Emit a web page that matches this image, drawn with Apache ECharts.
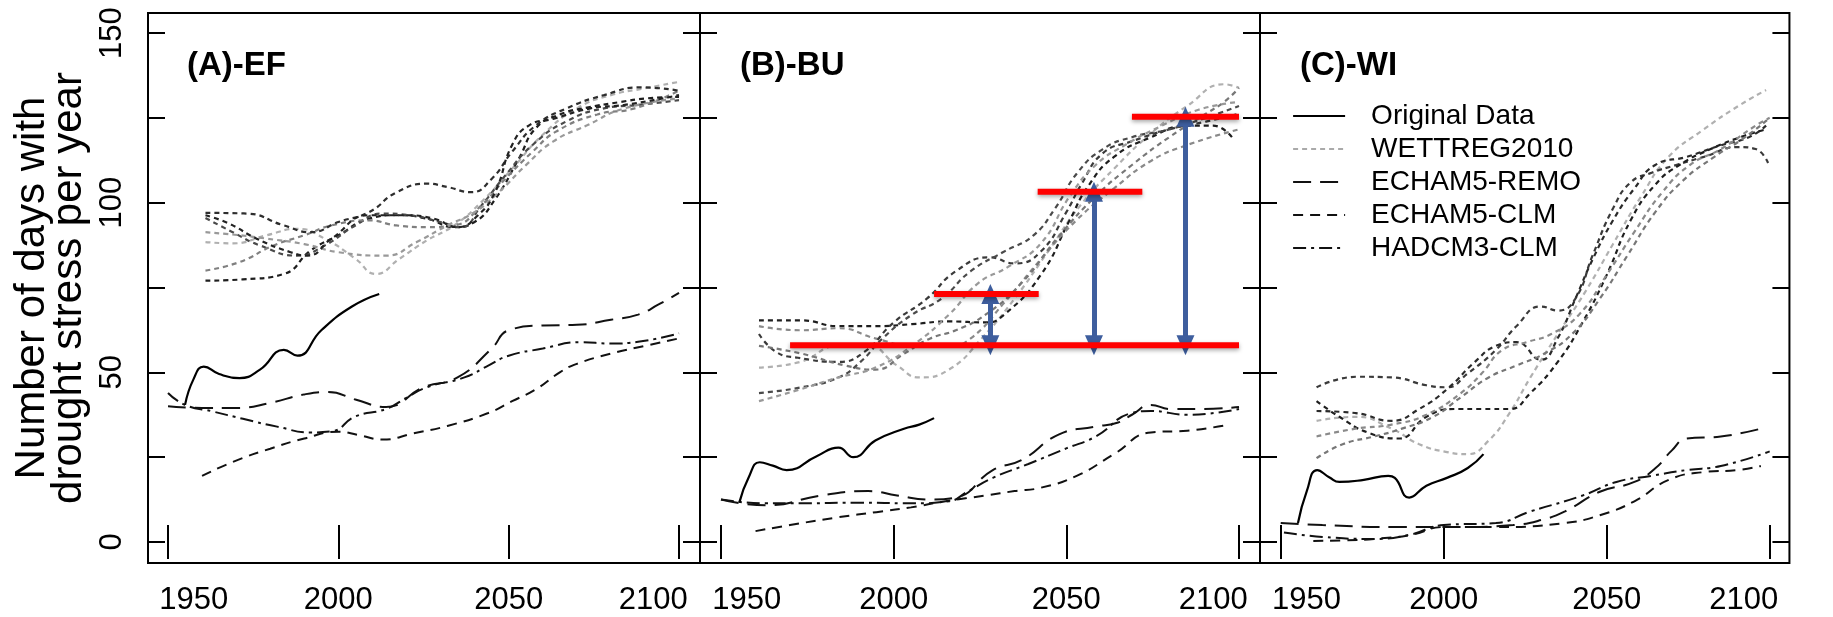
<!DOCTYPE html>
<html>
<head>
<meta charset="utf-8">
<title>Drought stress days</title>
<script src="https://cdn.jsdelivr.net/npm/echarts@6/dist/echarts.min.js"></script>
<style>
  html, body { margin: 0; padding: 0; background: #fff; }
  #chart { width: 1833px; height: 617px; }
</style>
</head>
<body>
<div id="chart"></div>
<script>
// axis ticks / labels
const xTickValues = [1950, 2000, 2050, 2100];
const yTickValues = [0, 25, 50, 75, 100, 125, 150];
const yLabelValues = [0, 50, 100, 150];
const panelTitles = ["(A)-EF", "(B)-BU", "(C)-WI"];
const legendNames = ["Original Data", "WETTREG2010", "ECHAM5-REMO", "ECHAM5-CLM", "HADCM3-CLM"];

// (A)-EF
const origA = [[1955, 40.4], [1957.5, 48], [1960.5, 51.7], [1965, 49.5], [1971, 48.3], [1977, 50.8], [1984, 56.6], [1988, 54.9], [1995, 62.4], [2004, 69.4], [2012, 73.1]];
const remoA = [[1950, 40], [1960, 39.5], [1970, 39.5], [1980, 41], [1990, 43.5], [1997, 44.2], [2005, 42], [2014, 39.8], [2025, 45.6], [2035, 48.5], [2045, 57], [2050, 62.4], [2060, 63.8], [2070, 64], [2080, 65.5], [2088, 67], [2094, 70], [2100, 73.4]];
const clmA = [[1960, 19.5], [1970, 24], [1980, 27.5], [1990, 30.5], [2000, 32.5], [2006, 31.5], [2013, 30.2], [2022, 32], [2032, 34.2], [2044, 38], [2051, 41.5], [2058, 45], [2065, 50], [2070, 52.5], [2080, 55.5], [2090, 57.8], [2100, 60]];
const hadA = [[1950, 43.9], [1955, 40.4], [1963, 38.5], [1972, 36.3], [1982, 34], [1992, 32.3], [1998, 32.6], [2005, 37], [2014, 39.2], [2020, 42.5], [2026, 45.6], [2037, 48.5], [2044, 52], [2050, 54.9], [2060, 57], [2071, 58.9], [2080, 58.5], [2088, 59], [2100, 61.5]];
const wettA1 = [[1961, 88.4], [1969, 88], [1979, 90.4], [1988, 92.3], [1996, 89.4], [2005, 83.5], [2011, 79], [2018, 83.5], [2026, 88.9], [2034, 93.3], [2042, 100.2], [2051, 110], [2060, 120], [2070, 127.8], [2080, 131.7], [2090, 133.7], [2100, 135.6]];
const wettA2 = [[1961, 77], [1972, 77.4], [1984, 79], [1992, 86], [2000, 90.4], [2009, 95.3], [2017, 96.3], [2026, 95.3], [2034, 92.8], [2040, 94.3], [2046, 101], [2053, 113], [2058, 122], [2065, 126], [2073, 128], [2083, 129.7], [2090, 130.7], [2100, 131.2]];
const wettA3 = [[1961, 95.5], [1969, 91.3], [1977, 87.4], [1988, 84.4], [1996, 87.4], [2005, 93.3], [2013, 96.8], [2021, 96.3], [2030, 94.3], [2036, 92.8], [2042, 99.2], [2049, 108], [2057, 117], [2067, 124], [2078, 127.8], [2088, 128.8], [2100, 130.2]];
const wettA4 = [[1961, 80], [1971, 82.5], [1981, 87.4], [1990, 90.4], [1998, 93.3], [2009, 94.8], [2017, 93.3], [2026, 92.8], [2034, 93.3], [2042, 99.2], [2049, 107], [2057, 115], [2064, 121], [2076, 126], [2087, 127.8], [2100, 133]];
const wettA5 = [[1961, 97], [1973, 96.8], [1984, 93.3], [1992, 91.3], [2000, 94.3], [2009, 97.2], [2017, 103], [2026, 105.6], [2032, 104.6], [2039, 103.1], [2045, 107], [2051, 115], [2058, 122.8], [2067, 127.8], [2078, 131.7], [2089, 134], [2100, 133]];
const wettA6 = [[1961, 91.3], [1971, 90.4], [1979, 89.4], [1990, 87.8], [2000, 85.4], [2014, 84.4], [2023, 88.4], [2032, 93.3], [2040, 97.2], [2047, 103], [2055, 111], [2063, 118], [2073, 122.8], [2084, 127.8], [2100, 130.7]];
const wettA7 = [[1961, 96.3], [1968, 93.8], [1976, 89.4], [1986, 85.4], [1991, 84.4], [1998, 89.4], [2009, 96.3], [2019, 96.3], [2028, 95.3], [2035, 92.8], [2041, 96.3], [2046, 103.1], [2051, 117], [2056, 122.8], [2063, 124.7], [2074, 127.8], [2084, 128.8], [2100, 131.7]];

// (B)-BU
const origB = [[1955.3, 11.6], [1958, 19], [1961.2, 23.5], [1965, 22.5], [1969, 21.2], [1977.7, 25.3], [1984, 27.8], [1988.3, 25], [1994.7, 29.9], [2003, 33.4], [2007.4, 34.6], [2011.7, 36.5]];
const remoB = [[1950, 12.5], [1963, 10.8], [1979, 13.7], [1992.6, 15], [2001, 13.7], [2010.6, 12.5], [2018, 13.1], [2028.7, 21.2], [2037, 24.1], [2047.9, 31.7], [2058.5, 34], [2065, 35.2], [2069, 37.5], [2074.5, 40.4], [2080, 39.2], [2090, 39.2], [2100, 39.8]];
const clmB = [[1960, 3.2], [1970, 5], [1984, 7.3], [1995, 8.8], [2005, 10.2], [2015, 12], [2026.6, 13.7], [2035, 15], [2042.6, 16], [2053, 19.5], [2063.8, 25.9], [2074.5, 32.3], [2085, 32.8], [2097.3, 34.6]];
const hadB = [[1950, 12.5], [1962.8, 11.4], [1973.4, 11.4], [1989.4, 11.6], [2005.3, 11.4], [2016, 12], [2021.3, 14.8], [2028.7, 18.9], [2039, 23], [2050, 27.6], [2058.5, 31.1], [2069, 38], [2074.5, 38.6], [2085, 37.5], [2100, 39.2]];
const wettB1 = [[1961, 51.4], [1973, 53.1], [1984, 57.8], [1992.5, 57.8], [2001, 52], [2007.4, 48.5], [2016, 50.8], [2025.5, 60], [2035, 71.7], [2044.7, 85.6], [2054.3, 99.5], [2063.8, 110], [2074.5, 120.4], [2085, 128.5], [2095.7, 134.9], [2100, 133.8]];
const wettB2 = [[1961, 65.3], [1973.4, 65.3], [1984, 63.6], [1994.7, 63.6], [2005.3, 64.2], [2016, 65], [2026.6, 64.7], [2032, 67], [2042.6, 78.7], [2051, 94.9], [2056.4, 105], [2063.8, 113.5], [2074.5, 119.3], [2085, 122.7], [2092.5, 122.7], [2098.4, 118.7]];
const wettB3 = [[1961, 63.6], [1973, 62.4], [1984, 63], [1994.7, 60], [2005.3, 57.8], [2016, 57.8], [2022.3, 60], [2032, 70.5], [2042.6, 83.3], [2053, 94.9], [2063.8, 104.2], [2074.5, 112.3], [2085, 117], [2100, 121.6]];
const wettB4 = [[1961, 61.3], [1966, 56], [1972.3, 54.3], [1984, 53.1], [1991.5, 56], [2000, 64.7], [2009.6, 71.7], [2018, 79.8], [2027.7, 83.9], [2035, 82.1], [2042.6, 85.6], [2050, 97.2], [2054.3, 105.3], [2060.6, 114.6], [2069, 118.1], [2079.8, 121.6], [2090.4, 123.9], [2100, 126.2]];
const wettB5 = [[1961, 57.8], [1973.4, 55.5], [1986, 52], [1994.7, 50.8], [2003, 55.5], [2010.6, 60], [2018, 62.4], [2026.6, 67], [2037, 76.3], [2048, 90.3], [2058.5, 101.9], [2069, 111.1], [2079.8, 119.3], [2090.4, 126.2], [2095.7, 129.7], [2100, 133.8]];
const wettB6 = [[1961, 43.9], [1973.4, 45.6], [1984, 48.5], [1990.4, 53.1], [1996.8, 60], [2005.3, 67], [2013.8, 71.7], [2022.3, 79.8], [2032, 85.6], [2040.4, 90.3], [2046.8, 98.4], [2053.2, 108.8], [2060.6, 115.8], [2069, 119.3], [2079.8, 121.6], [2090.4, 125], [2100, 128.5]];
const wettB7 = [[1961, 41.5], [1973, 45], [1984, 48.5], [1994.7, 51.4], [2005.3, 57.8], [2016, 67], [2024.5, 76.3], [2033, 81], [2042.6, 88], [2051, 101.9], [2058.5, 111.1], [2067, 117], [2077.7, 122.7], [2088.3, 127.4], [2100, 129.7]];

// (B)-BU annotations: red levels and blue arrows
const redX1 = [1970, 2011.7, 2041.7, 2069];
const redX2 = [2100, 2042, 2072, 2100];
const redY = [58, 73.1, 103.2, 125.3];
const arrowX = [2028, 2058, 2084.5];
const arrowBase = 58;
const arrowTop = [73.1, 103.2, 125.3];

// (C)-WI
const origC = [[1955.3, 5.6], [1958, 15], [1961.2, 21.2], [1965, 19], [1968, 17.7], [1975.5, 18.3], [1983, 19.5], [1985, 18.9], [1989.4, 13.1], [1994.7, 16.6], [2001, 18.9], [2007.4, 21.8], [2012.2, 25.9]];
const remoC = [[1950, 5.6], [1962.8, 5], [1984, 4.4], [2005.3, 4.4], [2021.3, 5], [2030, 6.5], [2037.2, 9], [2047.9, 14.8], [2058.5, 17.7], [2065, 21.8], [2070, 27], [2074.5, 30.5], [2085, 31.1], [2097.3, 33.4]];
const clmC = [[1960, 0.3], [1970, 0.5], [1980, 1], [1990, 2.1], [2000, 4.4], [2016, 4.4], [2037.2, 5.6], [2047.9, 7.9], [2058.5, 12], [2069, 18.3], [2079.8, 20.6], [2090.4, 21.2], [2097.3, 22.4]];
const hadC = [[1951, 2.8], [1962.8, 1.5], [1978.7, 0.9], [1989.4, 2.1], [2000, 5], [2016, 5.6], [2026.6, 9], [2042.6, 13.7], [2053, 17.7], [2063.8, 19.5], [2074.5, 21.2], [2085, 22.4], [2100, 26.7]];
const wettC1 = [[1961, 35.7], [1973, 36.9], [1984, 33.4], [1992.5, 28.8], [2001, 26.5], [2007.4, 25.9], [2013.8, 29.9], [2020.2, 38], [2026.6, 48.5], [2035, 61.3], [2043.6, 74], [2052, 87.9], [2060.6, 101.9], [2069, 113.5], [2079.8, 121.6], [2090.4, 128.5], [2098.9, 133.2]];
const wettC2 = [[1961, 45.6], [1973.4, 48.7], [1984, 48.5], [1994.7, 46.2], [2001, 45.6], [2007.4, 49.7], [2016, 56.6], [2022.3, 63.6], [2029.8, 69.4], [2035, 68.2], [2040.4, 71.7], [2045.7, 84.5], [2052, 98.4], [2057.4, 106], [2063.8, 108.8], [2071.3, 111.1], [2079.8, 113.5], [2090.4, 116.4], [2095.7, 115.8], [2099.5, 111.7]];
const wettC3 = [[1961, 41.5], [1968, 36.9], [1976.6, 32.3], [1986.2, 30.5], [1994.7, 36.9], [2003.2, 39.2], [2011.7, 39.2], [2020.2, 39.2], [2026.6, 43.9], [2035, 53.1], [2042.6, 64.7], [2050, 78.7], [2057.4, 94.9], [2064.9, 105.3], [2072.3, 111.1], [2081.9, 115.8], [2092.5, 119.8], [2098.9, 121.6]];
const wettC4 = [[1961, 38.6], [1973, 38], [1984, 35.7], [1992.5, 39.2], [2001, 45], [2009.6, 53.1], [2016, 57.8], [2022.3, 58.9], [2029.8, 53.7], [2035, 60.1], [2040.4, 71.7], [2045.7, 83.3], [2052, 94.9], [2058.5, 104.2], [2064.9, 111.1], [2074.5, 113.5], [2085, 116.9], [2093.6, 119.3], [2098.9, 122.7]];
const wettC5 = [[1961, 31.1], [1973, 33.4], [1984, 34.6], [1994.7, 37.5], [2005.3, 43.9], [2011.7, 49.7], [2018, 56.6], [2025.5, 58.9], [2033, 61.3], [2041.5, 67], [2050, 78.7], [2058.5, 91.4], [2067, 103], [2075.5, 111.1], [2085, 115.8], [2095.7, 122.7], [2100, 125]];
const wettC6 = [[1961, 24.7], [1969, 28.8], [1978.7, 31.1], [1987.2, 33.4], [1996.8, 36.9], [2005.3, 42.7], [2013.8, 48.5], [2022.3, 52], [2030.8, 55.5], [2039.4, 61.3], [2047.9, 71.7], [2056.4, 84.5], [2064.9, 97.2], [2073.4, 106.5], [2083, 113.5], [2092.5, 119.3], [2100, 125]];

const panels = [
  { orig: origA, remo: remoA, clm: clmA, had: hadA,
    wett: [wettA1, wettA2, wettA3, wettA4, wettA5, wettA6, wettA7],
    wettColors: ["#b0b0b0", "#1e1e1e", "#4a4a4a", "#808080", "#2e2e2e", "#999999", "#222222"] },
  { orig: origB, remo: remoB, clm: clmB, had: hadB,
    wett: [wettB1, wettB2, wettB3, wettB4, wettB5, wettB6, wettB7],
    wettColors: ["#b0b0b0", "#1e1e1e", "#8a8a8a", "#3a3a3a", "#777777", "#4a4a4a", "#999999"] },
  { orig: origC, remo: remoC, clm: clmC, had: hadC,
    wett: [wettC1, wettC2, wettC3, wettC4, wettC5, wettC6],
    wettColors: ["#b0b0b0", "#3a3a3a", "#1e1e1e", "#2a2a2a", "#8a8a8a", "#777777"] },
];

// panel frames in pixels, axis ranges so that ticks fall where the picture has them
const gridBoxes = [
  { left: 148, width: 552 },
  { left: 700, width: 560 },
  { left: 1260, width: 563 },
];
const xMin = [1944.13, 1943.92, 1943.65];
const xMax = [2106.16, 2106.08, 2106.06];
const yMin = -6.19;
const yMax = 155.9;

const font = "Liberation Sans";
const dashRemo = [18, 9];
const dashClm = [10, 7];
const dashHad = [13, 5, 3, 5];
const dashWett = [5, 4];
const pad = "\u00a0\u00a0\u00a0\u00a0\u00a0\u00a0";

const chart = echarts.init(document.getElementById("chart"));

const grid = [];
const xAxis = [];
const yAxis = [];
const series = [];

panels.forEach((p, i) => {
  grid.push({
    left: gridBoxes[i].left,
    width: gridBoxes[i].width,
    top: 13,
    height: 550,
    show: true,
    borderColor: "#000",
    borderWidth: 2,
    backgroundColor: "transparent",
  });

  const tickStyle = { inside: true, length: 17, lineStyle: { color: "#000", width: 2 } };

  // bottom and top x axes
  ["bottom", "top"].forEach((pos) => {
    xAxis.push({
      gridIndex: i,
      type: "value",
      position: pos,
      min: xMin[i],
      max: xMax[i],
      axisLine: { show: false },
      splitLine: { show: false },
      axisTick: Object.assign({ customValues: xTickValues }, tickStyle),
      axisLabel: {
        show: pos === "bottom",
        customValues: xTickValues,
        fontFamily: font,
        fontSize: 31,
        color: "#000",
        margin: 22,
        // end labels are pushed inward like in the original
        formatter: (v) => {
          const y = Math.round(v);
          if (y === 1950) return pad + "1950";
          if (y === 2100) return "2100" + pad;
          return String(y);
        },
      },
    });
  });

  // left and right y axes
  ["left", "right"].forEach((pos) => {
    yAxis.push({
      gridIndex: i,
      type: "value",
      position: pos,
      min: yMin,
      max: yMax,
      axisLine: { show: false },
      splitLine: { show: false },
      axisTick: Object.assign({ customValues: yTickValues }, tickStyle),
      axisLabel: {
        show: i === 0 && pos === "left",
        customValues: yLabelValues,
        rotate: 90,
        fontFamily: font,
        fontSize: 31,
        color: "#000",
        margin: 20,
      },
    });
  });

  const ax = { xAxisIndex: i * 2, yAxisIndex: i * 2 };

  p.wett.forEach((d, k) => {
    series.push(Object.assign({
      name: "WETTREG2010",
      type: "line",
      data: d,
      smooth: 0.5,
      symbol: "none",
      itemStyle: { color: p.wettColors[k] },
      lineStyle: { color: p.wettColors[k], width: 2.2, type: dashWett },
    }, ax));
  });

  const models = [
    ["ECHAM5-REMO", p.remo, dashRemo],
    ["ECHAM5-CLM", p.clm, dashClm],
    ["HADCM3-CLM", p.had, dashHad],
  ];
  models.forEach(([name, d, dash]) => {
    series.push(Object.assign({
      name: name,
      type: "line",
      data: d,
      smooth: 0.5,
      symbol: "none",
      itemStyle: { color: "#111" },
      lineStyle: { color: "#111", width: 2, type: dash },
    }, ax));
  });

  series.push(Object.assign({
    name: "Original Data",
    type: "line",
    data: p.orig,
    smooth: 0.5,
    symbol: "none",
    itemStyle: { color: "#000" },
    lineStyle: { color: "#000", width: 2.2, type: "solid" },
  }, ax));
});

// red horizontal levels in (B)
redY.forEach((y, k) => {
  const s = {
    name: "level" + k,
    type: "line",
    xAxisIndex: 2,
    yAxisIndex: 2,
    data: [[redX1[k], y], [redX2[k], y]],
    symbol: "none",
    z: 5,
    itemStyle: { color: "#ff0000" },
    lineStyle: {
      color: "#ff0000",
      width: 6,
      shadowColor: "rgba(0,0,0,0.35)",
      shadowBlur: 4,
      shadowOffsetY: 2,
    },
  };
  if (k === 0) {
    // blue double arrows from the base level up to each later level
    s.markLine = {
      silent: true,
      symbol: ["triangle", "triangle"],
      symbolSize: [18, 20],
      label: { show: false },
      lineStyle: { color: "#3e5e9e", width: 5, type: "solid" },
      data: arrowX.map((x, j) => [{ coord: [x, arrowBase] }, { coord: [x, arrowTop[j]] }]),
    };
  }
  series.push(s);
});

const graphic = [];
panelTitles.forEach((t, i) => {
  graphic.push({
    type: "text",
    x: [187, 740, 1300][i],
    y: 66,
    style: {
      text: t,
      fontFamily: font,
      fontSize: 33,
      fontWeight: "bold",
      fill: "#000",
      align: "left",
      verticalAlign: "middle",
    },
  });
});
graphic.push({
  type: "text",
  x: 51,
  y: 288,
  rotation: Math.PI / 2,
  style: {
    text: "Number of days with\ndrought stress per year",
    fontFamily: font,
    fontSize: 42,
    lineHeight: 37,
    fill: "#000",
    align: "center",
    verticalAlign: "middle",
  },
});

const option = {
  animation: false,
  backgroundColor: "#fff",
  grid: grid,
  xAxis: xAxis,
  yAxis: yAxis,
  legend: {
    orient: "vertical",
    left: 1287,
    top: 97,
    selectedMode: false,
    itemWidth: 52,
    itemHeight: 14,
    itemGap: 5,
    itemStyle: { opacity: 0 },
    textStyle: { fontFamily: font, fontSize: 28, lineHeight: 28, color: "#000", padding: [0, 0, 0, 21] },
    data: [
      { name: legendNames[0], lineStyle: { color: "#000", width: 2.2, type: "solid" } },
      { name: legendNames[1], lineStyle: { color: "#aaa", width: 2.2, type: dashWett } },
      { name: legendNames[2], lineStyle: { color: "#111", width: 2, type: dashRemo } },
      { name: legendNames[3], lineStyle: { color: "#111", width: 2, type: dashClm } },
      { name: legendNames[4], lineStyle: { color: "#111", width: 2, type: dashHad } },
    ],
  },
  graphic: graphic,
  series: series,
};

chart.setOption(option);
</script>
</body>
</html>
